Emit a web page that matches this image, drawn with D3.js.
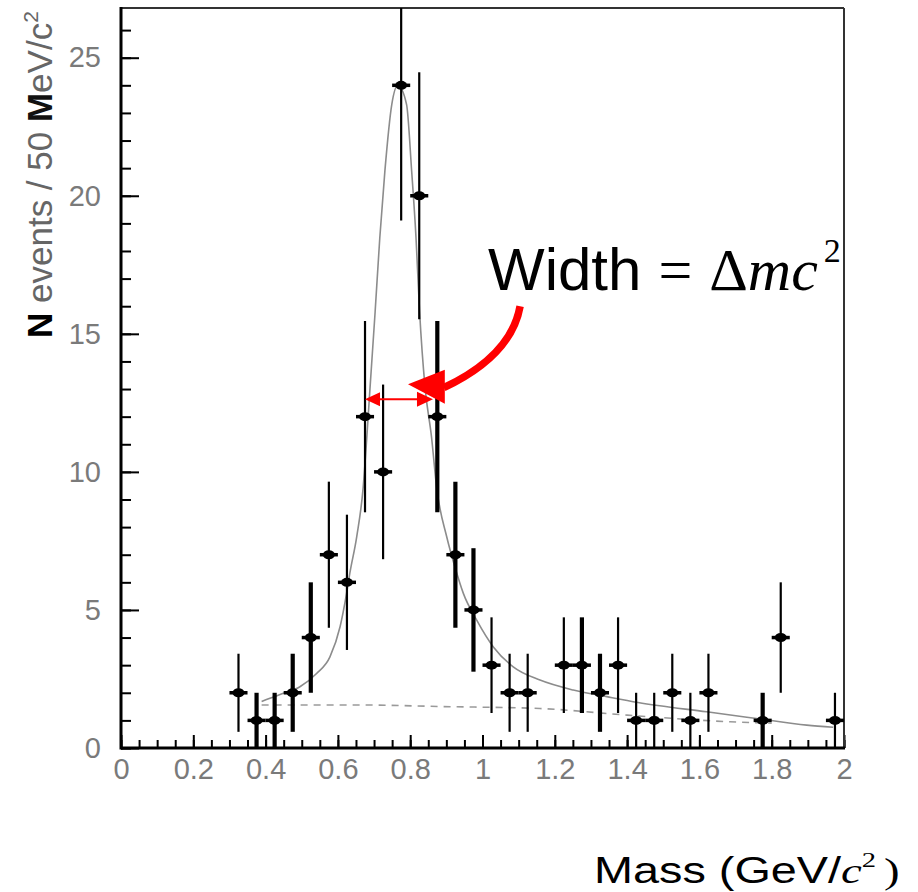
<!DOCTYPE html>
<html>
<head>
<meta charset="utf-8">
<script src="https://cdn.jsdelivr.net/npm/d3@7"></script>
<style>
  html, body { margin: 0; padding: 0; background: #fff; }
  svg { display: block; }
</style>
</head>
<body>
<script>
// bin centres (GeV/c^2) and event counts per 50 MeV bin
var mass = [0.325, 0.375, 0.425, 0.475, 0.525, 0.575, 0.625, 0.675, 0.725, 0.775,
            0.825, 0.875, 0.925, 0.975, 1.025, 1.075, 1.125, 1.225, 1.275, 1.325,
            1.375, 1.425, 1.475, 1.525, 1.575, 1.625, 1.775, 1.825, 1.975];
var counts = [2, 1, 1, 2, 4, 7, 6, 12, 10, 24,
              20, 12, 7, 5, 3, 2, 2, 3, 3, 2,
              3, 1, 1, 2, 1, 2, 1, 4, 1];

// bins whose error bars came out heavy in the scan
var heavyBins = [0.375, 0.425, 0.475, 0.525, 0.875, 0.925, 0.975, 1.275, 1.325, 1.775];

// fit curve
var fitMass = [0.389, 0.412, 0.449, 0.495, 0.541, 0.578, 0.606, 0.624, 0.633, 0.652,
               0.670, 0.680, 0.689, 0.703, 0.716, 0.730, 0.749, 0.766, 0.790, 0.804,
               0.816, 0.826, 0.841, 0.859, 0.873, 0.901, 0.925, 0.947, 0.984, 1.030,
               1.085, 1.159, 1.251, 1.344, 1.430, 1.620, 1.758, 1.897, 1.970];
var fitValue = [1.68, 1.80, 1.98, 2.22, 2.70, 3.30, 4.39, 5.60, 6.33, 7.65,
                9.45, 11.26, 13.07, 15.8, 18.5, 20.9, 23.3, 24.0, 23.3, 20.9,
                18.5, 15.8, 13.07, 11.26, 9.45, 7.65, 6.50, 5.60, 4.63, 3.66,
                2.94, 2.46, 2.10, 1.86, 1.65, 1.31, 1.07, 0.83, 0.75];

// background (dashed)
var bgMass = [0.389, 0.65, 0.89, 1.159, 1.40, 1.685, 1.80];
var bgValue = [1.56, 1.56, 1.50, 1.43, 1.19, 0.95, 0.90];

var xTicks = [0, 0.2, 0.4, 0.6, 0.8, 1, 1.2, 1.4, 1.6, 1.8, 2];
var xTickLabels = ["0", "0.2", "0.4", "0.6", "0.8", "1", "1.2", "1.4", "1.6", "1.8", "2"];
var yTicks = [0, 5, 10, 15, 20, 25];
var yTickLabels = ["0", "5", "10", "15", "20", "25"];

var width = 918,
    height = 892,
    margin = {top: 8, right: 74, bottom: 144, left: 121};

var x = d3.scaleLinear().domain([0, 2]).range([margin.left, width - margin.right]);
var y = d3.scaleLinear().domain([0, 26.8]).range([height - margin.bottom, margin.top]);

var svg = d3.select("body").append("svg")
    .attr("width", width)
    .attr("height", height);

svg.append("defs").append("clipPath").attr("id", "plot")
  .append("rect")
    .attr("x", x(0)).attr("y", y(26.8))
    .attr("width", x(2) - x(0)).attr("height", y(0) - y(26.8));

var xMinor = d3.range(0, 41).map(function(i) { return i * 0.05; }),
    yMinor = d3.range(0, 27);

function tidy(g) {
  g.select(".domain").remove();
  g.selectAll(".tick line").attr("stroke", "#000").attr("stroke-width", 2);
  g.selectAll(".tick text")
    .attr("fill", "#7a7a7a")
    .style("font-family", "'Liberation Sans', Arial, sans-serif")
    .style("font-size", "29px");
}

// minor ticks
svg.append("g").attr("transform", "translate(0," + y(0) + ")")
    .call(d3.axisBottom(x).tickValues(xMinor).tickSizeInner(-8).tickSizeOuter(0).tickFormat(""))
    .call(tidy);
svg.append("g").attr("transform", "translate(" + x(0) + ",0)")
    .call(d3.axisLeft(y).tickValues(yMinor).tickSizeInner(-10).tickSizeOuter(0).tickFormat(""))
    .call(tidy);

// major ticks + labels
svg.append("g").attr("transform", "translate(0," + y(0) + ")")
    .call(d3.axisBottom(x).tickValues(xTicks).tickSizeInner(-13).tickSizeOuter(0).tickPadding(10)
      .tickFormat(function(d, i) { return xTickLabels[i]; }))
    .call(tidy);
svg.append("g").attr("transform", "translate(" + x(0) + ",0)")
    .call(d3.axisLeft(y).tickValues(yTicks).tickSizeInner(-18).tickSizeOuter(0).tickPadding(20)
      .tickFormat(function(d, i) { return yTickLabels[i]; }))
    .call(tidy);

// frame
svg.append("line").attr("x1", x(0)).attr("x2", x(2)).attr("y1", y(26.8)).attr("y2", y(26.8))
    .attr("stroke", "#333").attr("stroke-width", 2);
svg.append("line").attr("x1", x(2)).attr("x2", x(2)).attr("y1", y(26.8)).attr("y2", y(0))
    .attr("stroke", "#333").attr("stroke-width", 2);
svg.append("line").attr("x1", x(0)).attr("x2", x(0)).attr("y1", y(26.8) - 1).attr("y2", y(0) + 1.5)
    .attr("stroke", "#000").attr("stroke-width", 3);
svg.append("line").attr("x1", x(0)).attr("x2", x(2) + 1).attr("y1", y(0)).attr("y2", y(0))
    .attr("stroke", "#000").attr("stroke-width", 3);

var plot = svg.append("g").attr("clip-path", "url(#plot)");

// background and fit
plot.append("path")
    .datum(d3.zip(bgMass, bgValue))
    .attr("fill", "none")
    .attr("stroke", "#9a9a9a")
    .attr("stroke-width", 1.6)
    .attr("stroke-dasharray", "7,6")
    .attr("d", d3.line().x(function(d) { return x(d[0]); }).y(function(d) { return y(d[1]); })
      .curve(d3.curveMonotoneX));

plot.append("path")
    .datum(d3.zip(fitMass, fitValue))
    .attr("fill", "none")
    .attr("stroke", "#8c8c8c")
    .attr("stroke-width", 1.6)
    .attr("d", d3.line().x(function(d) { return x(d[0]); }).y(function(d) { return y(d[1]); })
      .curve(d3.curveMonotoneX));

// data points with sqrt(N) errors
var pts = plot.selectAll(".pt")
    .data(d3.zip(mass, counts))
  .enter().append("g").attr("class", "pt");

pts.append("line")
    .attr("x1", function(d) { return x(d[0]); })
    .attr("x2", function(d) { return x(d[0]); })
    .attr("y1", function(d) { return y(d[1] + Math.sqrt(d[1])); })
    .attr("y2", function(d) { return y(Math.max(0, d[1] - Math.sqrt(d[1]))); })
    .attr("stroke", "#000")
    .attr("stroke-width", function(d) { return heavyBins.indexOf(d[0]) >= 0 ? 4.2 : 2.2; });

pts.append("line")
    .attr("x1", function(d) { return x(d[0] - 0.025); })
    .attr("x2", function(d) { return x(d[0] + 0.025); })
    .attr("y1", function(d) { return y(d[1]); })
    .attr("y2", function(d) { return y(d[1]); })
    .attr("stroke", "#000")
    .attr("stroke-width", 3.5);

pts.append("ellipse")
    .attr("cx", function(d) { return x(d[0]); })
    .attr("cy", function(d) { return y(d[1]); })
    .attr("rx", 6).attr("ry", 4.5)
    .attr("fill", "#000");

// axis titles
var yTitle = svg.append("text")
    .attr("transform", "translate(52," + (y(0) - 410) + ") rotate(-90)")
    .style("font-family", "'Liberation Sans', Arial, sans-serif")
    .style("font-size", "35px")
    .attr("fill", "#666");
yTitle.append("tspan").attr("fill", "#000").attr("font-weight", "bold").text("N");
yTitle.append("tspan").text(" events / 50 ");
yTitle.append("tspan").attr("fill", "#111").attr("font-weight", "bold").text("M");
yTitle.append("tspan").text("eV/c");
yTitle.append("tspan").attr("dy", -14).style("font-size", "21px").text("2");

// the slide text is drawn a little wide, hence the horizontal stretch
var xTitle = svg.append("text")
    .attr("transform", "translate(594,883) scale(1.3,1)")
    .style("font-family", "'Liberation Sans', Arial, sans-serif")
    .style("font-size", "36px")
    .attr("fill", "#000");
xTitle.append("tspan").text("Mass (GeV/");
xTitle.append("tspan").style("font-family", "'Liberation Serif', 'Times New Roman', serif")
    .style("font-style", "italic").text("c");
xTitle.append("tspan").style("font-family", "'Liberation Serif', 'Times New Roman', serif")
    .style("font-size", "22px").attr("dy", -16).text("2");
xTitle.append("tspan").style("font-family", "'Liberation Serif', 'Times New Roman', serif")
    .attr("dx", 6).attr("dy", 16).text(")");

// width annotation
var fwhmY = 12.63, fwhmLo = 0.675, fwhmHi = 0.863;
var red = "#f00";

svg.append("line")
    .attr("x1", x(fwhmLo) + 10).attr("x2", x(fwhmHi) - 10)
    .attr("y1", y(fwhmY)).attr("y2", y(fwhmY))
    .attr("stroke", red).attr("stroke-width", 2);
svg.append("path")
    .attr("fill", red)
    .attr("d", "M" + x(fwhmLo) + "," + y(fwhmY) + "l15,-7v14z" +
               "M" + x(fwhmHi) + "," + y(fwhmY) + "l-16,-7.5v15z");

var arrowStart = [1.104, 16.0], arrowCtrl = [1.079, 14.2], arrowEnd = [0.893, 13.05], arrowTip = [0.794, 13.17];
svg.append("path")
    .attr("fill", "none")
    .attr("stroke", red)
    .attr("stroke-width", 7.5)
    .attr("d", "M" + x(arrowStart[0]) + "," + y(arrowStart[1]) +
               "Q" + x(arrowCtrl[0]) + "," + y(arrowCtrl[1]) + " " +
               x(arrowEnd[0]) + "," + y(arrowEnd[1]));
svg.append("path")
    .attr("fill", red)
    .attr("d", "M" + x(arrowTip[0]) + "," + y(arrowTip[1]) +
               "L" + (x(arrowEnd[0]) + 1) + "," + (y(arrowEnd[1]) - 18) +
               "L" + (x(arrowEnd[0]) + 1) + "," + (y(arrowEnd[1]) + 16) + "Z");

var label = svg.append("text")
    .attr("x", 488).attr("y", 290)
    .attr("fill", "#000")
    .style("font-family", "'Liberation Sans', Arial, sans-serif")
    .style("font-size", "60px");
label.append("tspan").text("Width");
label.append("tspan").attr("dx", 17).style("font-family", "'Liberation Serif', 'Times New Roman', serif").text("=");
label.append("tspan").attr("dx", 17).style("font-family", "'Liberation Serif', 'Times New Roman', serif").text("\u0394");
label.append("tspan").style("font-family", "'Liberation Serif', 'Times New Roman', serif")
    .style("font-style", "italic").text("mc");
label.append("tspan").style("font-family", "'Liberation Serif', 'Times New Roman', serif")
    .style("font-size", "34px").attr("dx", 6).attr("dy", -28).text("2");
</script>
</body>
</html>
